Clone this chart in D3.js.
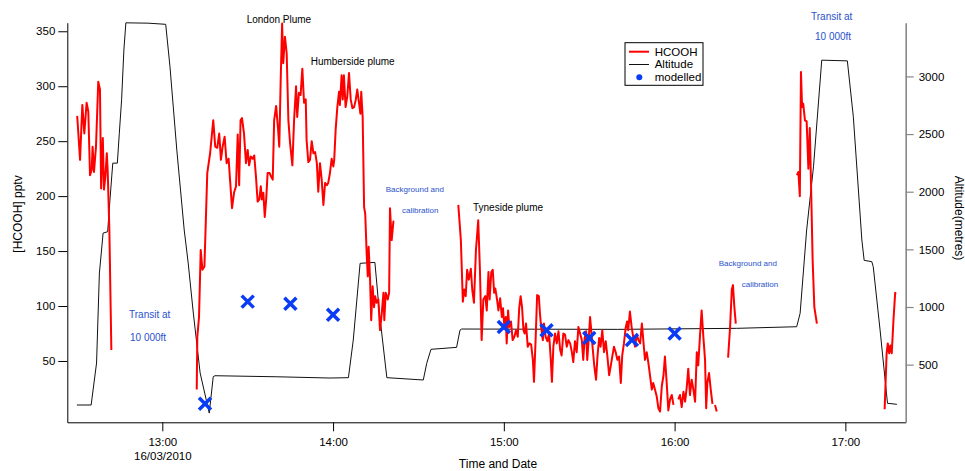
<!DOCTYPE html>
<html>
<head>
<meta charset="utf-8">
<script src="https://cdn.jsdelivr.net/npm/d3@7"></script>
<style>
  body { margin: 0; background: #fff; }
  svg { font-family: "Liberation Sans", Arial, sans-serif; }
</style>
</head>
<body>
<div id="chart"></div>
<script>
// minutes after 12:00 on 16/03/2010
const hcoohTime = [
  30.1,31.1,31.9,32.6,33.4,34.0,34.6,35.2,35.5,36.0,36.7,37.5,38.1,38.5,39.1,39.5,40.0,40.5,40.8,41.4,42.1,
  null,
  72.1,72.3,72.9,73.5,74.1,74.8,75.3,75.8,76.8,77.9,78.6,79.3,80.0,80.6,81.2,81.9,82.6,83.3,83.8,84.5,85.2,85.9,86.5,87.0,
  87.5,88.0,88.7,89.4,90.0,90.5,91.1,91.8,92.3,92.9,93.5,94.1,94.6,95.0,95.5,96.0,96.5,97.0,97.7,98.2,98.8,99.3,100.0,
  100.7,101.1,101.6,102.1,102.5,103.1,103.7,104.3,104.9,105.7,106.3,107.0,107.4,108.0,108.6,109.2,109.8,110.4,110.7,
  111.3,111.9,112.5,113.1,113.7,114.3,114.8,115.4,116.0,116.6,117.2,117.8,118.3,118.9,119.5,120.1,120.4,120.9,121.5,
  122.1,122.4,123.0,123.4,123.8,124.4,125.0,125.6,126.2,126.8,127.4,128.0,128.5,129.1,129.6,129.9,130.4,130.9,131.3,
  131.8,132.2,132.5,133.0,133.4,133.9,134.4,134.8,135.3,135.9,136.5,137.1,137.7,138.0,138.5,139.2,139.7,140.0,140.6,
  141.2,141.5,
  null,
  164.0,164.9,165.6,166.1,166.6,167.1,167.7,168.4,168.9,169.5,170.2,171.0,171.6,172.2,172.8,173.5,174.0,174.6,175.0,
  175.6,176.1,176.6,177.0,177.6,178.1,178.7,179.3,179.7,180.2,180.7,181.0,181.5,181.9,182.5,183.1,183.7,184.3,184.9,
  185.4,185.9,186.4,186.9,187.3,187.8,188.4,189.0,189.6,190.2,190.6,191.2,191.7,192.3,192.7,193.1,193.7,194.1,194.7,
  195.3,195.9,196.5,196.9,197.4,198.0,198.6,199.2,199.8,200.3,200.9,201.5,202.1,202.7,203.3,203.9,204.4,205.0,205.6,
  206.2,206.8,207.4,207.9,208.4,208.9,209.3,209.8,210.3,210.7,211.2,211.8,212.4,212.9,213.5,214.0,214.6,215.2,215.8,
  216.4,217.0,217.6,218.1,218.7,219.3,219.9,220.5,221.1,221.6,222.2,222.8,223.3,223.7,224.3,224.9,225.5,226.1,226.7,
  227.3,227.9,228.5,229.0,229.6,230.2,230.8,231.4,232.0,232.5,233.1,233.7,234.3,234.9,235.5,236.1,236.6,237.2,237.8,
  238.4,239.0,239.6,
  null,
  241.3,241.9,242.5,243.1,243.7,244.3,244.8,245.4,246.0,246.6,247.2,247.8,248.3,248.9,249.5,250.1,250.7,251.1,251.5,
  252.1,252.7,253.3,
  null,
  254.2,254.8,
  null,
  258.8,259.5,260.1,260.5,261.0,261.5,
  null,
  283.0,283.5,284.0,284.4,284.8,285.2,285.8,286.4,287.0,287.5,288.0,288.5,289.1,290.0,
  null,
  313.8,314.5,314.9,315.4,315.8,316.3,316.9,317.5,317.8
];
const hcoohPptv = [
  273,233,283,257,285,277,219,224,245,222,245,304,297,207,253,206,218,239,224,169,60,
  null,
  24,72,90,151,133,136,178,221,239,269,245,244,257,233,245,254,230,234,215,189,203,209,256,210,
  269,271,257,230,242,228,236,234,237,218,195,197,209,197,203,181,197,221,221,218,215,269,282,
  260,245,306,357,321,345,330,269,248,228,269,300,272,294,292,316,285,288,251,
  231,233,250,239,240,230,204,230,215,192,212,210,212,221,234,227,233,260,281,
  295,283,310,288,310,281,291,312,288,280,281,288,297,285,275,295,272,190,184,
  148,127,154,124,87,118,99,109,103,106,78,93,112,87,112,106,112,189,160,
  177,177,
  null,
  192,160,104,115,109,133,124,134,115,103,151,178,133,69,106,109,96,131,106,
  131,133,112,116,106,96,107,90,98,81,90,66,96,81,86,69,72,78,72,
  98,109,99,78,75,84,63,66,65,51,31,72,110,109,93,81,69,84,72,
  68,75,51,31,63,75,66,77,60,55,75,74,63,69,66,58,49,68,58,
  81,75,69,51,71,77,51,69,90,78,62,45,33,54,71,63,78,58,68,
  54,37,46,54,63,58,51,54,30,55,66,80,86,78,95,81,71,63,74,
  69,66,84,69,51,58,48,36,24,30,24,18,7,4,27,37,54,31,5,
  15,19,10,
  null,
  15,19,8,22,13,27,43,19,33,24,13,58,46,72,96,72,51,7,30,
  39,24,11,
  null,
  10,4,
  null,
  53,81,115,119,99,84,
  null,
  219,222,200,313,281,284,269,268,225,262,203,142,99,84,
  null,
  6,57,66,57,64,57,87,112,111
];

const altTime = [30.0,35.0,36.9,37.9,39.2,40.8,41.6,42.6,44.2,44.9,45.7,46.5,47.2,55.0,61.2,62.7,65.1,67.7,69.1,70.9,
  73.3,76.5,77.9,78.5,100.0,118.9,125.4,127.1,129.5,134.7,136.3,138.9,151.7,152.9,154.4,163.4,164.6,165.2,220.0,
  261.8,282.9,284.1,286.4,288.8,291.7,300.7,302.8,305.8,306.6,309.3,309.8,312.2,314.8,318.1];
const altMetres = [150,150,514,1294,1641,1653,1927,2248,2248,2508,2797,3229,3465,3462,3452,3083,2361,1668,1381,947,
  427,80,396,404,395,384,387,714,1379,1387,945,387,367,511,633,650,800,809,806,
  815,829,945,1668,2216,3141,3135,2650,1581,1405,1393,1349,800,165,156];

const modelTime = [75, 90, 105, 120, 180, 195, 210, 225, 240];
const modelPptv = [11, 104, 102, 92, 81, 78, 71, 69, 75];

const leftTicks = [50, 100, 150, 200, 250, 300, 350];
const rightTicks = [500, 1000, 1500, 2000, 2500, 3000];
const timeTicks = [60, 120, 180, 240, 300];

const annotations = [
  {text: "London Plume", x: 246.7, y: 23, size: 10, color: "#000"},
  {text: "Humberside plume", x: 310.7, y: 64.5, size: 10, color: "#000"},
  {text: "Tyneside plume", x: 473, y: 210.5, size: 10, color: "#000"},
  {text: "Background and", x: 385.7, y: 192, size: 8, color: "#2a52cc"},
  {text: "calibration", x: 402, y: 213, size: 8, color: "#2a52cc"},
  {text: "Background and", x: 718.7, y: 266, size: 8, color: "#2a52cc"},
  {text: "calibration", x: 741.7, y: 287, size: 8, color: "#2a52cc"},
  {text: "Transit at", x: 129, y: 317.5, size: 10, color: "#2a52cc"},
  {text: "10 000ft", x: 130, y: 341, size: 10, color: "#2a52cc"},
  {text: "Transit at", x: 811, y: 20, size: 10, color: "#2a52cc"},
  {text: "10 000ft", x: 815, y: 39.5, size: 10, color: "#2a52cc"}
];

const W = 965, H = 471;
const margin = {top: 22.7, right: 59.3, bottom: 48.7, left: 67.3};
const width = W - margin.left - margin.right,
      height = H - margin.top - margin.bottom;

const t0 = new Date(2010, 2, 16, 12, 0, 0);
const toDate = m => new Date(t0.getTime() + m * 60000);

const svg = d3.select("#chart")
  .append("svg")
    .attr("width", W)
    .attr("height", H);
const g = svg.append("g")
    .attr("transform", `translate(${margin.left},${margin.top})`);

const x = d3.scaleTime()
  .domain([toDate(26.62), toDate(321.2)])
  .range([0, width]);
const y = d3.scaleLinear()
  .domain([-5.8, 357.8])
  .range([height, 0]);
const y2 = d3.scaleLinear()
  .domain([0, 3466])
  .range([height, 0]);

// axes
const fmt = d3.timeFormat("%H:%M");
const xAxis = g.append("g")
  .attr("transform", `translate(0,${height})`)
  .call(d3.axisBottom(x).tickValues(timeTicks.map(toDate)).tickFormat(fmt).tickSize(9).tickPadding(7).tickSizeOuter(0));
xAxis.selectAll("text").style("font-size", "11.5px").attr("fill", "#000");
xAxis.selectAll("text").filter((d, i) => i === 0)
  .append("tspan").attr("x", 0).attr("dy", "1.15em").text("16/03/2010");

const yAxis = g.append("g")
  .call(d3.axisLeft(y).tickValues(leftTicks).tickSize(9).tickPadding(3).tickSizeOuter(0));
yAxis.selectAll("text").style("font-size", "11.5px").attr("fill", "#000");

const y2Axis = g.append("g")
  .attr("transform", `translate(${width},0)`)
  .call(d3.axisRight(y2).tickValues(rightTicks).tickFormat(d3.format("d")).tickSize(8).tickPadding(5).tickSizeOuter(0));
y2Axis.selectAll("text").style("font-size", "11.5px").attr("fill", "#000");
y2Axis.select(".domain").attr("stroke", "#888").attr("stroke-width", 1.6);
y2Axis.selectAll(".tick line").attr("stroke", "#888").attr("stroke-width", 1.2);

svg.append("text")
  .attr("x", 498).attr("y", 468)
  .attr("text-anchor", "middle")
  .style("font-size", "12px")
  .text("Time and Date");
svg.append("text")
  .attr("transform", "translate(22,214) rotate(-90)")
  .attr("text-anchor", "middle")
  .style("font-size", "12px")
  .text("[HCOOH] pptv");
svg.append("text")
  .attr("transform", "translate(955,218) rotate(90)")
  .attr("text-anchor", "middle")
  .style("font-size", "12px")
  .text("Altitude(metres)");

// altitude line
const altData = altTime.map((t, i) => ({t: toDate(t), v: altMetres[i]}));
g.append("path")
  .datum(altData)
  .attr("fill", "none")
  .attr("stroke", "#111")
  .attr("stroke-width", 1)
  .attr("d", d3.line().x(d => x(d.t)).y(d => y2(d.v)));

// HCOOH line
const hcData = hcoohTime.map((t, i) => ({t: t == null ? null : toDate(t), v: hcoohPptv[i]}));
g.append("path")
  .datum(hcData)
  .attr("fill", "none")
  .attr("stroke", "#ff0000")
  .attr("stroke-width", 2)
  .attr("stroke-linejoin", "round")
  .attr("d", d3.line().defined(d => d.v != null).x(d => x(d.t)).y(d => y(d.v)));

// modelled crosses
const s = 6;
g.selectAll("path.model")
  .data(modelTime.map((t, i) => ({t: toDate(t), v: modelPptv[i]})))
  .join("path")
    .attr("class", "model")
    .attr("fill", "none")
    .attr("stroke", "#0a3cf5")
    .attr("stroke-width", 3.5)
    .attr("d", d => {
      const cx = x(d.t), cy = y(d.v);
      return `M${cx - s},${cy - s}L${cx + s},${cy + s}M${cx + s},${cy - s}L${cx - s},${cy + s}`;
    });

// annotations
svg.selectAll("text.note")
  .data(annotations)
  .join("text")
    .attr("class", "note")
    .attr("x", d => d.x)
    .attr("y", d => d.y)
    .attr("fill", d => d.color)
    .style("font-size", d => d.size + "px")
    .text(d => d.text);

// legend
const legend = svg.append("g").attr("transform", "translate(625,42.7)");
legend.append("rect")
  .attr("width", 78).attr("height", 42.6)
  .attr("fill", "#fff").attr("stroke", "#000").attr("stroke-width", 1);
const legItems = ["HCOOH", "Altitude", "modelled"];
legItems.forEach((name, i) => {
  const ly = 9 + i * 12.8;
  if (i === 0) legend.append("line").attr("x1", 4).attr("x2", 24).attr("y1", ly).attr("y2", ly)
    .attr("stroke", "#ff0000").attr("stroke-width", 2);
  if (i === 1) legend.append("line").attr("x1", 4).attr("x2", 24).attr("y1", ly).attr("y2", ly)
    .attr("stroke", "#111").attr("stroke-width", 1);
  if (i === 2) legend.append("circle").attr("cx", 14.3).attr("cy", ly).attr("r", 3)
    .attr("fill", "#0a3cf5");
  legend.append("text").attr("x", 29.7).attr("y", ly + 4)
    .style("font-size", "11.5px").text(name);
});
</script>
</body>
</html>
